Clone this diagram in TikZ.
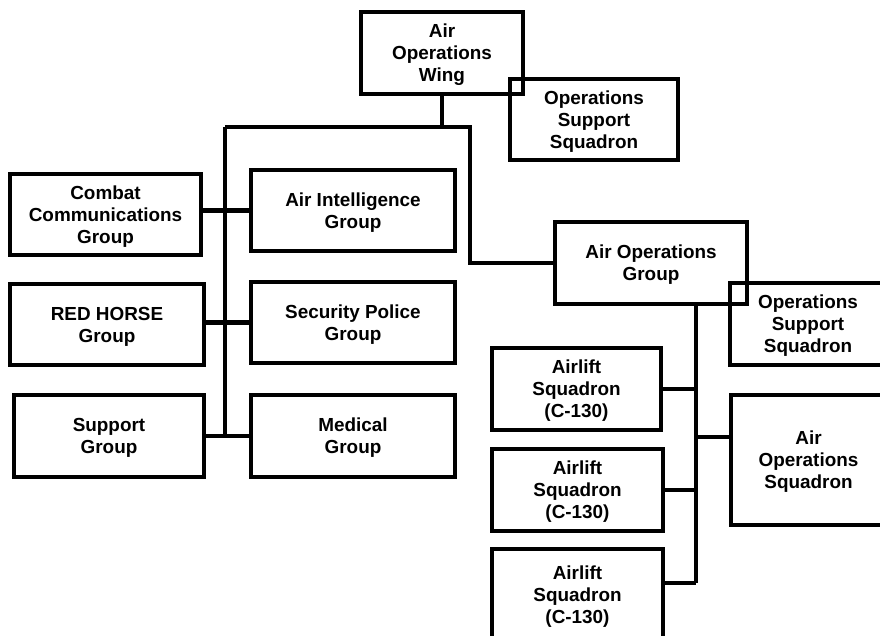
\documentclass[tikz,border=0pt]{standalone}
\usepackage{fontspec}
\setmainfont{Liberation Sans}
\usepackage{tikz}
\usetikzlibrary{positioning}
\tikzset{
  unitbox/.style={draw=black,line width=3.6pt,inner sep=0pt,text depth=-8pt,align=center,font=\fontsize{18.9}{22}\selectfont\bfseries},
  link/.style={draw=black,line width=4.6pt}
}
\begin{document}
\begin{tikzpicture}[x=1pt,y=-1pt]
\useasboundingbox (0,0) rectangle (880,636);
\node[unitbox,minimum width=162pt,minimum height=82pt] (wing) at (442,53) {Air\\Operations\\Wing};
\node[unitbox,minimum width=168pt,minimum height=81pt] (oss1) at (594,119.5) {Operations\\Support\\Squadron};
\node[unitbox,minimum width=191pt,minimum height=81pt] (comm) at (105.5,214.5) {Combat\\Communications\\Group};
\node[unitbox,minimum width=204pt,minimum height=81pt] (intel) at (353,210.5) {Air Intelligence\\Group};
\node[unitbox,minimum width=194pt,minimum height=81pt] (redhorse) at (107,324.5) {RED HORSE\\Group};
\node[unitbox,minimum width=204pt,minimum height=81pt] (police) at (353,322.5) {Security Police\\Group};
\node[unitbox,minimum width=190pt,minimum height=82pt] (support) at (109,436) {Support\\Group};
\node[unitbox,minimum width=204pt,minimum height=82pt] (medical) at (353,436) {Medical\\Group};
\node[unitbox,minimum width=192pt,minimum height=82pt] (aog) at (651,263) {Air Operations\\Group};
\node[unitbox,minimum width=156pt,minimum height=82pt] (oss2) at (808,324) {Operations\\Support\\Squadron};
\node[unitbox,minimum width=169pt,minimum height=82pt] (airlift1) at (576.5,389) {Airlift\\Squadron\\(C-130)};
\node[unitbox,minimum width=171pt,minimum height=82pt] (airlift2) at (577.5,490) {Airlift\\Squadron\\(C-130)};
\node[unitbox,minimum width=171pt,minimum height=91pt] (airlift3) at (577.5,594.5) {Airlift\\Squadron\\(C-130)};
\node[unitbox,minimum width=155pt,minimum height=130pt] (aos) at (808.5,460) {Air\\Operations\\Squadron};
\coordinate (barL) at (225,127); \coordinate (barR) at (470,127);
\coordinate (spine) at (696,305); \coordinate (spineEnd) at (696,583); \coordinate (aosJoin) at (696,437);
\draw[link] (wing.south) -- (wing.south |- barL); \draw[link] (barL) -- (barR) |- (aog.west);
\draw[link] (barL) -- (barL |- medical.west);
\draw[link] (comm.east |- intel.west) -- (intel.west); \draw[link] (redhorse.east |- police.west) -- (police.west); \draw[link] (support.east) -- (medical.west);
\draw[link] (aog.south -| spine) -- (spineEnd);
\draw[link] (airlift1.east) -- (airlift1.east -| spine); \draw[link] (airlift2.east) -- (airlift2.east -| spine); \draw[link] (airlift3.east |- spineEnd) -- (spineEnd);
\draw[link] (aosJoin) -- (aos.west |- aosJoin);
\end{tikzpicture}
\end{document}
